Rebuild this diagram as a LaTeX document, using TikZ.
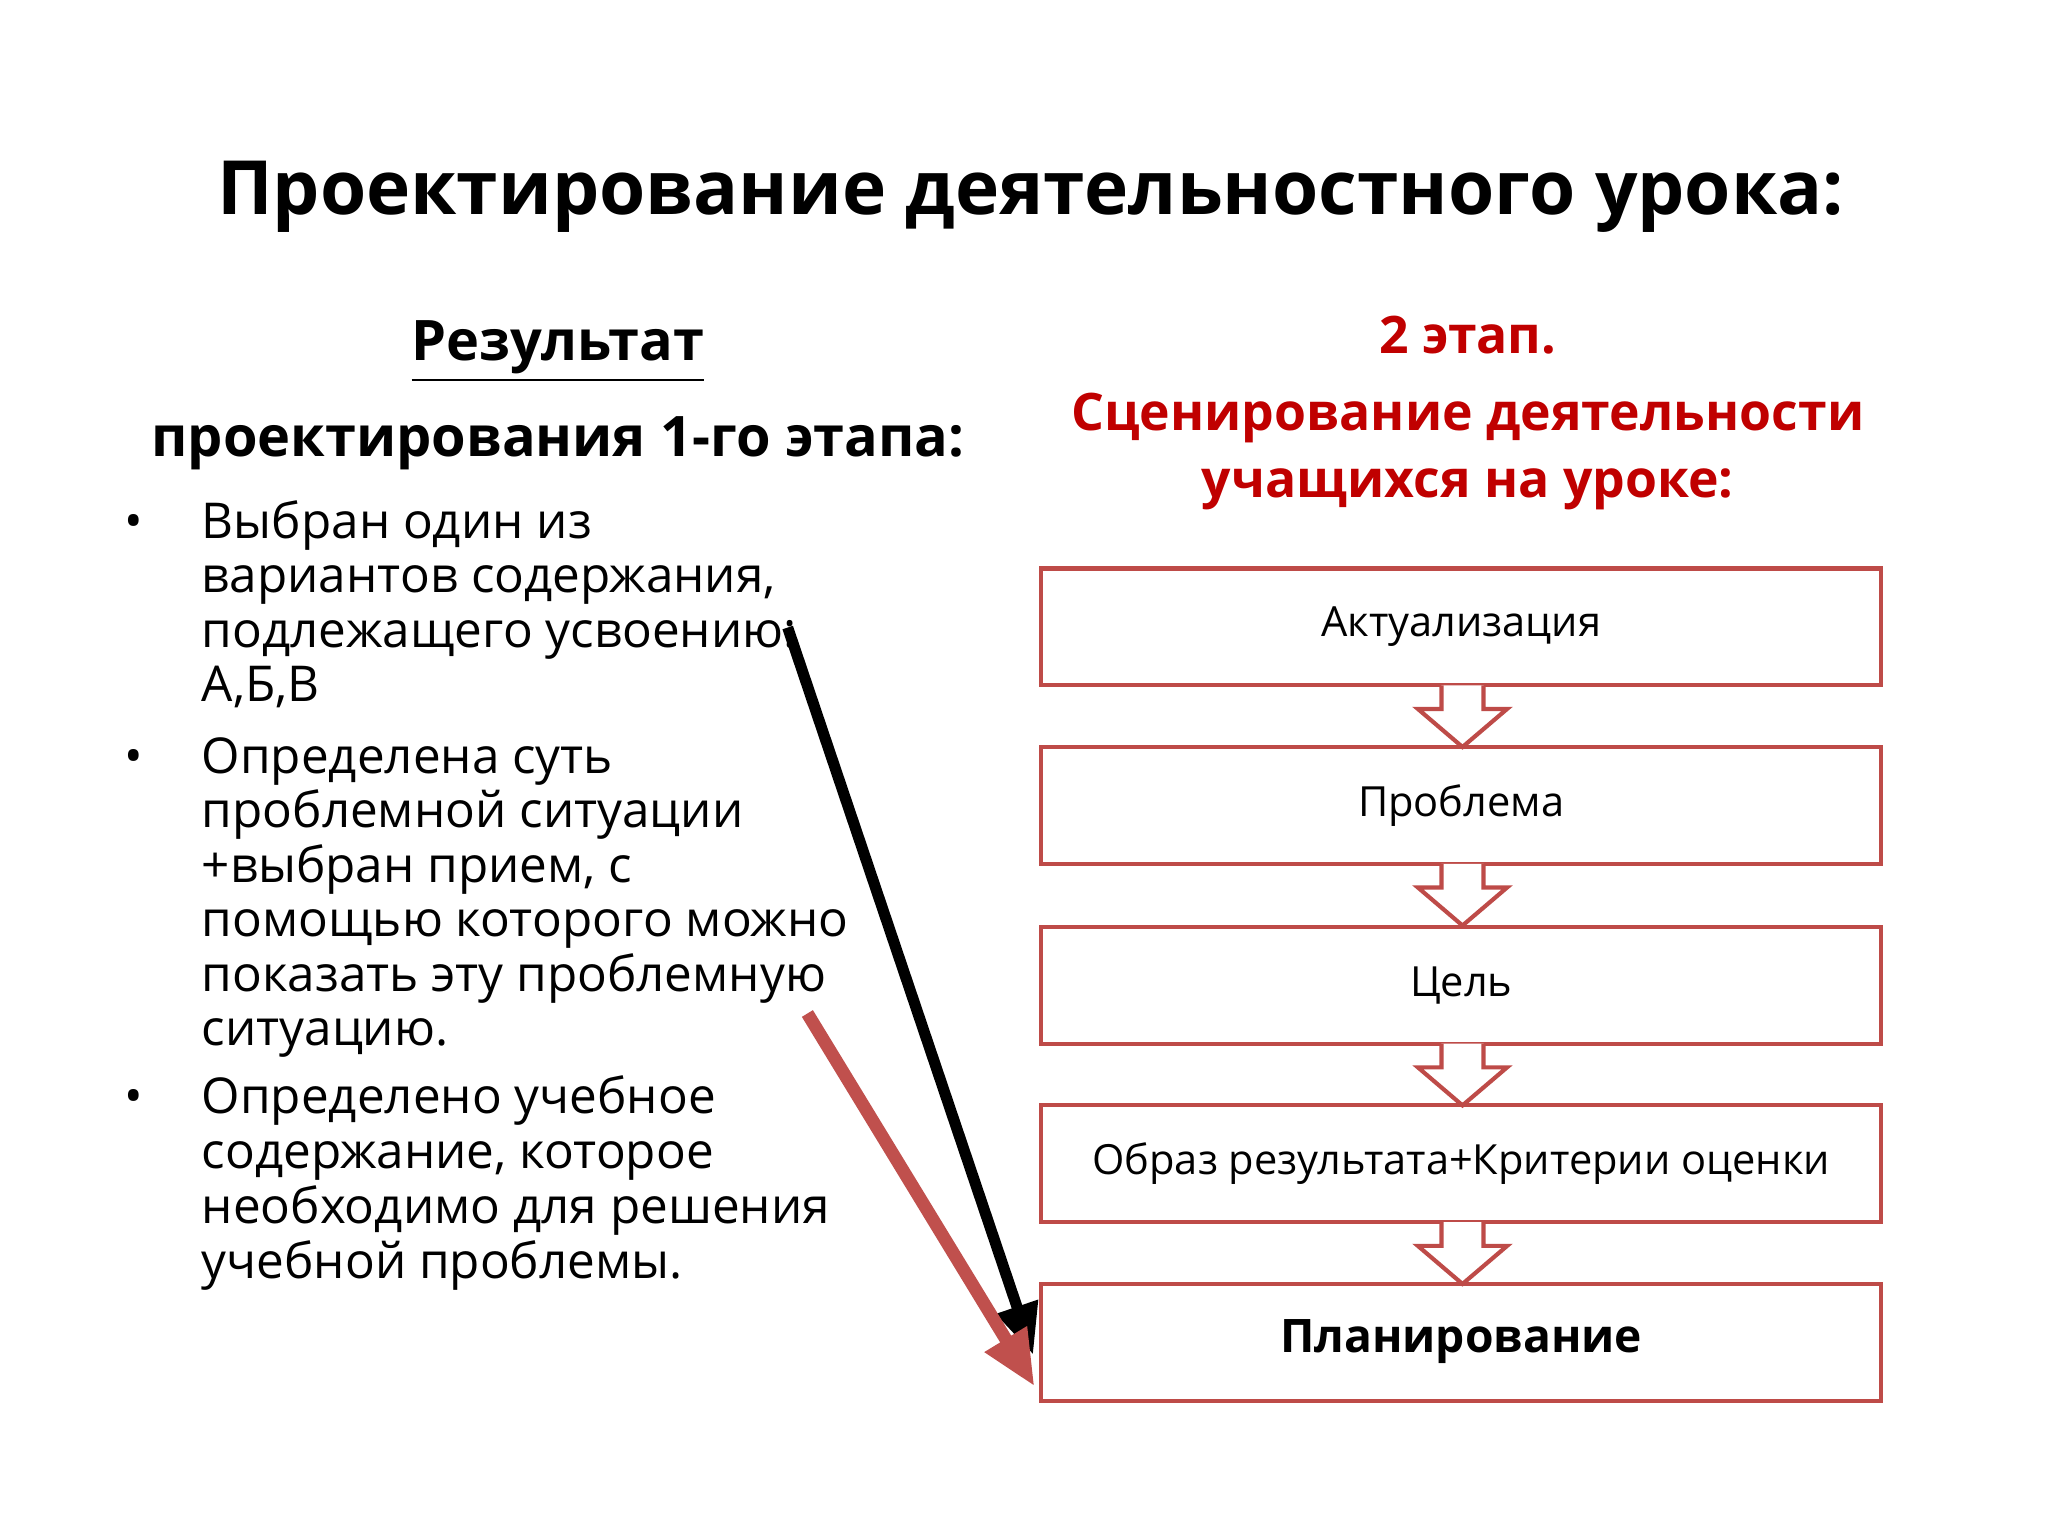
\documentclass[tikz,border=0pt]{standalone}
\usepackage{fontspec}
\setmainfont{Open Sans}
\usetikzlibrary{arrows.meta}
\definecolor{bx}{HTML}{BE4B48}
\definecolor{rd}{HTML}{C00000}
\definecolor{ra}{HTML}{C0504D}
\begin{document}
\begin{tikzpicture}[x=0.01cm,y=-0.01cm,
  ln/.style={anchor=base west,inner sep=0pt,font=\fontsize{10.7}{13}\selectfont},
  hd/.style={inner sep=0pt,font=\fontsize{12.1}{15}\selectfont\bfseries},
  rh/.style={inner sep=0pt,font=\fontsize{11.2}{15}\selectfont\bfseries},
  bt/.style={font=\fontsize{9}{10}\selectfont}]
\useasboundingbox (0,0) rectangle (1560,1170);
\node[inner sep=0pt,font=\fontsize{16.2}{19}\selectfont\bfseries] (title) at (785,150) {Проектирование деятельностного урока:};
\node[hd] (res) at (425,268) {\underline{Результат}};
\node[hd] (pr) at (425,338) {проектирования 1-го этапа:};
\foreach \y in {410,589,848} \node[ln] at (94,\y) {•};
\foreach \t/\y in {{Выбран один из}/410,{вариантов содержания,}/451,{подлежащего усвоению:}/493,{А,Б,В}/534,
  {Определена суть}/589,{проблемной ситуации}/630,{+выбран прием, с}/672,{помощью которого можно}/713,{показать эту проблемную}/755,{ситуацию.}/796,
  {Определено учебное}/848,{содержание, которое}/890,{необходимо для решения}/932,{учебной проблемы.}/974}
  \node[ln] at (153,\y) {\t};
\node[rh,text=rd] (st) at (1118,255) {2 этап.};
\node[rh,text=rd,align=center] (sc) at (1118,344) {Сценирование деятельности\\[-0.5pt]учащихся на уроке:};
\foreach \n/\y/\t in {b1/477/{Актуализация},b2/613/{Проблема},b3/750/{Цель},b4/886/{Образ результата+Критерии оценки}}
  \draw[bx,line width=0.9pt] (793,\y-44) rectangle (1433,\y+45) node[midway,black,bt] (\n) {\t};
\draw[bx,line width=0.9pt] (793,978) rectangle (1433,1067);
\node[font=\fontsize{10}{12}\selectfont\bfseries] (b5) at (1113,1022) {Планирование};
\foreach \y in {522,658,795,931}
  \draw[bx,line width=0.9pt,fill=white,line join=miter] (1098,\y) -- (1098,\y+18) -- (1080,\y+18) -- (1114,\y+47) -- (1148,\y+18) -- (1130,\y+18) -- (1130,\y);
\coordinate (k1) at (600,478); \coordinate (k2) at (787,1032);
\coordinate (r1) at (615,772); \coordinate (r2) at (788,1056);
\draw[line width=2.4pt,-{Triangle[length=11pt,width=9pt]}] (k1) -- (k2);
\draw[ra,line width=2.8pt,-{Triangle[length=12pt,width=10pt]}] (r1) -- (r2);
\end{tikzpicture}
\end{document}
